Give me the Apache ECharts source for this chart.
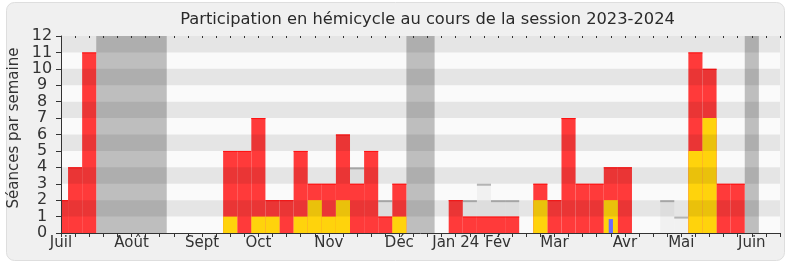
<!DOCTYPE html>
<html>
<head>
<meta charset="utf-8">
<script src="https://cdn.jsdelivr.net/npm/echarts@6/dist/echarts.min.js"></script>
<style>
html,body{margin:0;padding:0;background:#ffffff;}
#chart{width:790px;height:267px;}
</style>
</head>
<body>
<div id="chart"></div>
<script>
// ---- data (week index 0..51, weekly ticks starting in July 2023) ----
const weekCount = 52;
const monthTickIndex = [0, 5, 10, 14, 19, 24, 28, 31, 35, 40, 44, 49];
const monthNames = ['Juil', 'Août', 'Sept', 'Oct', 'Nov', 'Déc', 'Jan 24', 'Fév', 'Mar', 'Avr', 'Mai', 'Juin'];
// red: séances with presence
const presence = [2,4,11,0,0,0,0,0,0,0,0,0,5,5,7,2,2,5,3,3,6,3,5,1,3,0,0,0,2,1,1,1,1,0,3,2,7,3,3,4,4,0,0,0,0,11,10,3,3,0,0,0];
// yellow: interventions
const interventions = [0,0,0,0,0,0,0,0,0,0,0,0,1,0,1,1,0,1,2,1,2,0,0,0,1,0,0,0,0,0,0,0,0,0,2,0,0,0,0,2,0,0,0,0,0,5,7,0,0,0,0,0];
// grey: median of deputies
const median = [0,0,0,0,0,0,0,0,0,0,0,0,0,0,0,0,0,0,0,0,0,4,0,2,0,0,0,0,0,2,3,2,2,0,0,0,0,0,0,0,0,0,0,2,1,0,0,0,0,0,0,0];
// blue: questions
const questions = [0,0,0,0,0,0,0,0,0,0,0,0,0,0,0,0,0,0,0,0,0,0,0,0,0,0,0,0,0,0,0,0,0,0,0,0,0,0,0,0.85,0,0,0,0,0,0,0,0,0,0,0,0];
// holidays (week index ranges)
const vacStart = [3, 25, 49];
const vacEnd = [7, 26, 49];
const yTicks = [0,1,2,3,4,5,6,7,8,9,10,11,12];

const FONT = 'DejaVu Sans';
const chart = echarts.init(document.getElementById('chart'), null, {renderer: 'canvas'});

function toItems(arr) { return arr.map((v, i) => [i, v]); }

function rectClip(params, api, x0v, x1v, y0v, y1v) {
  const a = api.coord([x0v, y1v]);
  const b = api.coord([x1v, y0v]);
  const cs = params.coordSys;
  const x0 = Math.max(a[0], cs.x), x1 = Math.min(b[0], cs.x + cs.width);
  if (x1 <= x0) return null;
  return {x: x0, y: a[1], width: x1 - x0, height: b[1] - a[1]};
}

function barSeries(name, arr, frac, fill, topColor, topWidth, z) {
  return {
    name: name, type: 'custom', z: z, silent: true,
    data: toItems(arr),
    renderItem: function (params, api) {
      const i = api.value(0), v = api.value(1);
      if (!v) return null;
      const r = rectClip(params, api, i - frac / 2, i + frac / 2, 0, v);
      if (!r) return null;
      const children = [{type: 'rect', shape: r, style: {fill: fill}}];
      if (topColor) {
        children.push({type: 'line', shape: {x1: r.x, y1: r.y + topWidth / 2, x2: r.x + r.width, y2: r.y + topWidth / 2},
          style: {stroke: topColor, lineWidth: topWidth}});
      }
      return {type: 'group', children: children};
    }
  };
}

const vacItems = vacStart.map((s, k) => [s, vacEnd[k]]);
const stripeBands = [1, 3, 5, 7, 9, 11];

const option = {
  backgroundColor: '#ffffff',
  animation: false,
  textStyle: {fontFamily: FONT},
  graphic: [
    {type: 'rect', z: -100, shape: {x: 6.5, y: 2.5, width: 778, height: 258, r: 8},
      style: {fill: '#f0f0f0', stroke: '#dedede', lineWidth: 1}},
    {type: 'text', z: 100, x: 427.5, y: 20,
      style: {text: 'Participation en hémicycle au cours de la session 2023-2024', fill: '#2a2a2a',
        font: '16.3px "DejaVu Sans"', textAlign: 'center', textVerticalAlign: 'middle'}},
    {type: 'text', z: 100, x: 14, y: 128, rotation: Math.PI / 2,
      style: {text: 'Séances par semaine', fill: '#333333',
        font: '15px "DejaVu Sans"', textAlign: 'center', textVerticalAlign: 'middle'}}
  ],
  grid: {left: 61, right: 10, top: 36, bottom: 34, show: true, backgroundColor: '#fafafa', borderWidth: 0},
  xAxis: [
    {type: 'value', min: 0, max: weekCount - 1, interval: 1, position: 'bottom', z: 20,
      splitLine: {show: false},
      axisLine: {show: true, lineStyle: {color: '#333333', width: 1}},
      axisTick: {show: true, length: 4, lineStyle: {color: '#333333'}},
      axisLabel: {show: true, margin: 3, color: '#333333', fontSize: 15, fontFamily: FONT,
        showMinLabel: true, showMaxLabel: true,
        formatter: function (v) { const k = monthTickIndex.indexOf(Math.round(v)); return k >= 0 ? monthNames[k] : ''; }}},
    {type: 'value', min: 0, max: weekCount - 1, interval: 1, position: 'top', z: 20,
      splitLine: {show: false},
      axisLine: {show: false},
      axisTick: {show: true, inside: true, length: 2, lineStyle: {color: '#333333'}},
      axisLabel: {show: false}}
  ],
  yAxis: {type: 'value', min: 0, max: 12, interval: 1, z: 20,
    splitLine: {show: false},
    axisLine: {show: true, lineStyle: {color: '#333333', width: 1}},
    axisTick: {show: true, length: 5, lineStyle: {color: '#333333'}},
    axisLabel: {margin: 19, align: 'center', color: '#333333', fontSize: 16, fontFamily: FONT,
      formatter: function (v) { return yTicks.indexOf(v) >= 0 ? String(v) : ''; }}},
  series: [
    {name: 'vacances', type: 'custom', z: 1, silent: true, data: vacItems,
      renderItem: function (params, api) {
        const r = rectClip(params, api, api.value(0) - 0.5, api.value(1) + 0.5, 0, 12);
        return r ? {type: 'rect', shape: r, style: {fill: '#bebebe'}} : null;
      }},
    barSeries('médiane', median, 1, 'rgba(0,0,0,0.035)', '#b4b4b4', 2, 2),
    barSeries('présences', presence, 1, '#ff3a3a', '#ff1010', 1, 3),
    barSeries('interventions', interventions, 1, '#ffd30c', null, 0, 4),
    barSeries('questions', questions, 0.3, '#6b6bff', null, 0, 5),
    {name: 'bandes', type: 'custom', z: 10, silent: true, data: stripeBands.map(b => [b]),
      renderItem: function (params, api) {
        const b = api.value(0);
        const r = rectClip(params, api, 0, weekCount - 1, b, b + 1);
        return r ? {type: 'rect', shape: r, style: {fill: 'rgba(0,0,0,0.084)'}} : null;
      }}
  ]
};
chart.setOption(option);
</script>
</body>
</html>
